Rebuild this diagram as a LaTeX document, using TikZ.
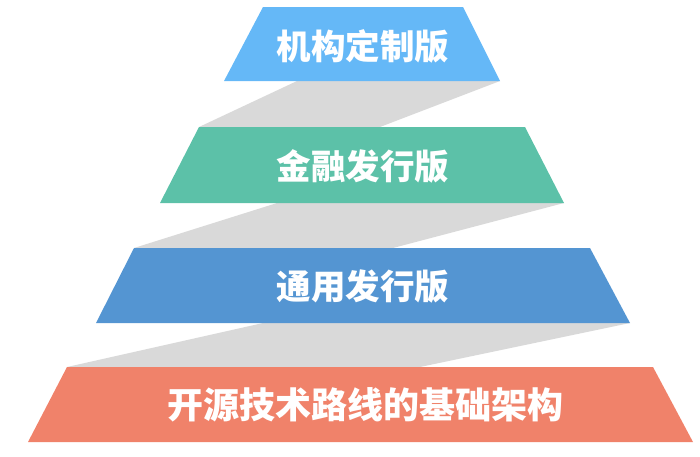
\documentclass[tikz,border=0pt]{standalone}
\usepackage{fontspec}
\newfontfamily\cjk{Noto Sans CJK SC}
\definecolor{cA}{HTML}{65B8F7}
\definecolor{cB}{HTML}{5CC1A8}
\definecolor{cC}{HTML}{5495D2}
\definecolor{cD}{HTML}{F0826A}
\definecolor{cG}{HTML}{D9D9D9}
\tikzset{
  tier/.style={draw=none},
  band/.style={fill=cG, draw=none},
  label/.style={text=white, font=\cjk\bfseries\fontsize{34.5}{40}\selectfont, inner sep=0pt},
}
\begin{document}
\begin{tikzpicture}[x=1pt,y=-1pt]
\useasboundingbox (0,0) rectangle (700,456);
% corners
\coordinate (a-tl) at (263,7);   \coordinate (a-tr) at (463,7);
\coordinate (a-br) at (500,81);  \coordinate (a-bl) at (224,81);
\coordinate (b-tl) at (199,127); \coordinate (b-tr) at (525,127);
\coordinate (b-br) at (564,203); \coordinate (b-bl) at (160,203);
\coordinate (c-tl) at (134,248); \coordinate (c-tr) at (590,248);
\coordinate (c-br) at (630,323); \coordinate (c-bl) at (96,323);
\coordinate (d-tl) at (67,367);  \coordinate (d-tr) at (653,367);
\coordinate (d-br) at (693,442); \coordinate (d-bl) at (28,442);
\coordinate (g1) at (297,81);  \coordinate (h1) at (380,127);
\coordinate (g2) at (277,203); \coordinate (h2) at (393,248);
\coordinate (g3) at (263,323); \coordinate (h3) at (420,367);
% grey bands
\fill[band] (g1) -- (a-br) -- (h1) -- (b-tl) -- cycle;
\fill[band] (g2) -- (b-br) -- (h2) -- (c-tl) -- cycle;
\fill[band] (g3) -- (c-br) -- (h3) -- (d-tl) -- cycle;
% tiers
\fill[tier, cA] (a-tl) -- (a-tr) -- (a-br) -- (a-bl) -- cycle;
\fill[tier, cB] (b-tl) -- (b-tr) -- (b-br) -- (b-bl) -- cycle;
\fill[tier, cC] (c-tl) -- (c-tr) -- (c-br) -- (c-bl) -- cycle;
\fill[tier, cD] (d-tl) -- (d-tr) -- (d-br) -- (d-bl) -- cycle;
% labels
\node[label] (la) at (363,46) {机构定制版};
\node[label] (lb) at (363,166) {金融发行版};
\node[label] (lc) at (363,286) {通用发行版};
\node[label, font=\cjk\bfseries\fontsize{36}{42}\selectfont] (ld) at (365,405) {开源技术路线的基础架构};
\end{tikzpicture}
\end{document}
